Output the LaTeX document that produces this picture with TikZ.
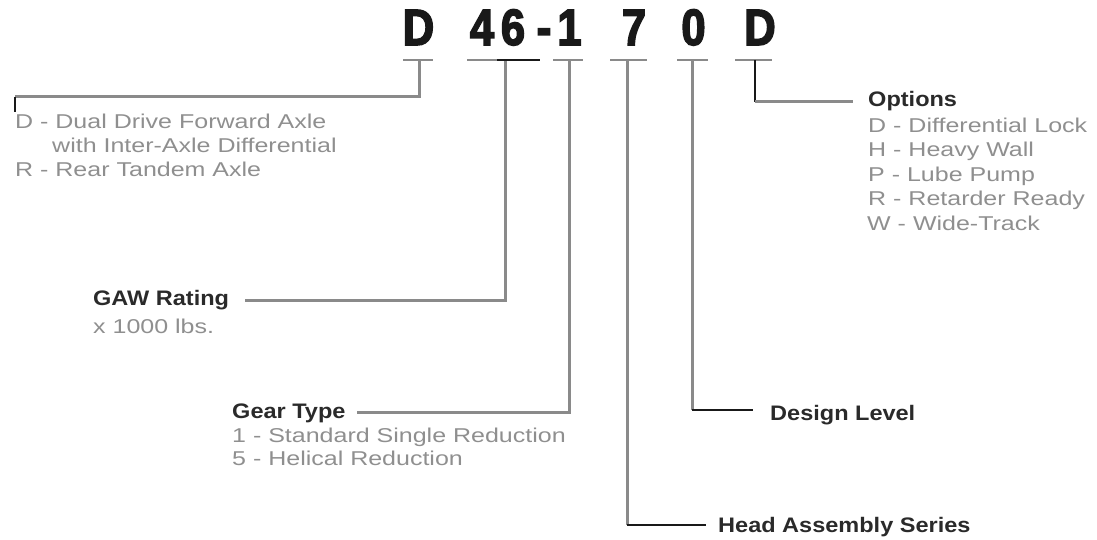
\documentclass[tikz,border=0pt]{standalone}
\usepackage{fontspec}
\setmainfont{Liberation Sans}
\newfontfamily\gfont[FakeStretch=1.25]{Liberation Sans}
\newfontfamily\hfont[FakeStretch=1.12]{Liberation Sans}
\newfontfamily\cfont[FakeStretch=0.85,FakeBold=3]{Liberation Sans}
\definecolor{txtgray}{HTML}{8F8F8F}
\definecolor{hdark}{HTML}{2A2A2A}
\definecolor{lgray}{HTML}{8A8A8A}
\tikzset{
  desc/.style={anchor=base west,inner sep=0pt,text=txtgray,font=\gfont\fontsize{20}{24}\selectfont},
  head/.style={anchor=base west,inner sep=0pt,text=hdark,font=\hfont\bfseries\fontsize{21}{25}\selectfont},
  code/.style={anchor=base,inner sep=0pt,text=black!90,font=\cfont\bfseries\fontsize{51}{55}\selectfont},
  gline/.style={draw=lgray,line width=3pt},
  bline/.style={draw=black!90,line width=2.2pt},
  bar/.style={draw=lgray,line width=2.6pt}
}
\begin{document}
\begin{tikzpicture}[x=1pt,y=-1pt]
\useasboundingbox (0,0) rectangle (1097,540);
% code characters
\node[code] (cD) at (418.5,45) {D};
\node[code] (c4) at (482,45) {4};
\node[code] (c6) at (513,45) {6};
\node[code] (cdash) at (544,45) {-};
\node[code] (c1) at (569.5,45) {1};
\node[code] (c7) at (634,45) {7};
\node[code] (c0) at (693.5,45) {0};
\node[code] (cO) at (760,45) {D};
% stem tops
\coordinate (sD) at (419,60);
\coordinate (s46) at (505,60);
\coordinate (s1) at (569,60);
\coordinate (s7) at (627,60);
\coordinate (s0) at (692,60);
\coordinate (sO) at (755,60);
% bars
\draw[bar] (403,60) -- (433,60);
\draw[bar] (467,60) -- (497,60);
\draw[bar] (553,60) -- (583,60);
\draw[bar] (610,60) -- (647,60);
\draw[bar] (677,60) -- (708,60);
\draw[bar] (735,60) -- (772,60);
% labels
\node[desc] (d1) at (15,129) {D - Dual Drive Forward Axle};
\node[desc] (d2) at (52,153) {with Inter-Axle Differential};
\node[desc] (d3) at (15,177) {R - Rear Tandem Axle};
\node[head] (opt) at (868,107) {Options};
\node[desc] (o1) at (868,133) {D - Differential Lock};
\node[desc] (o2) at (868,157) {H - Heavy Wall};
\node[desc] (o3) at (868,182) {P - Lube Pump};
\node[desc] (o4) at (868,205) {R - Retarder Ready};
\node[desc] (o5) at (867,230) {W - Wide-Track};
\node[head] (gaw) at (93,305) {GAW Rating};
\node[desc] (gaw1) at (93,333) {x 1000 lbs.};
\node[head] (gear) at (232,418) {Gear Type};
\node[desc] (g1) at (232,442) {1 - Standard Single Reduction};
\node[desc] (g2) at (232,465) {5 - Helical Reduction};
\node[head] (dl) at (770,420) {Design Level};
\node[head] (has) at (718,532) {Head Assembly Series};
% connector end points
\coordinate (eD) at (15,97);
\coordinate (eDt) at (15,112);
\coordinate (e46) at (245,300);
\coordinate (e1) at (357,412);
\coordinate (e7) at (706,525);
\coordinate (e0) at (753,410);
\coordinate (eO) at (853,102);
% connectors
\draw[gline] (sD) |- (eD);
\draw[bline] (eD) -- (eDt);
\draw[gline] (s46) |- (e46);
\draw[bline] (497,60) -- (540,60);
\draw[gline] (s1) |- (e1);
\draw[gline] (s7) -- (s7 |- e7);
\draw[bline] (s7 |- e7) -- (e7);
\draw[gline] (s0) -- (s0 |- e0);
\draw[bline] (s0 |- e0) -- (e0);
\draw[bline] (sO) -- (sO |- eO);
\draw[gline] (sO |- eO) -- (eO);
\end{tikzpicture}
\end{document}
